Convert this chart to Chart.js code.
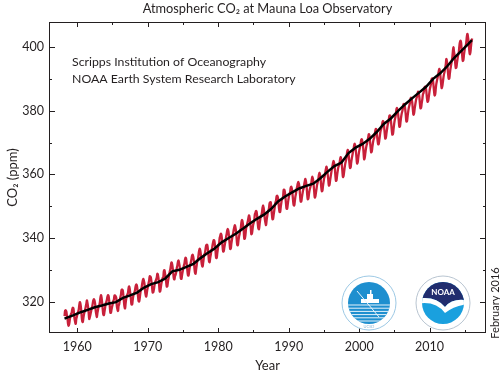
<!DOCTYPE html>
<html>
<head>
<meta charset="utf-8">
<script src="https://cdn.jsdelivr.net/npm/chart.js@4.4.1/dist/chart.umd.min.js"></script>
<style>
  body { margin: 0; background: #fff; }
  canvas { display: block; }
</style>
</head>
<body>
<canvas id="co2Chart" width="500" height="375"></canvas>
<script>
// Monthly mean CO2 (ppm) at Mauna Loa, starting March 1958
const firstYear = 1958;
const firstMonth = 3;
const monthlyCO2 = [
    315.71, 317.45, 317.50, 317.10, 315.86, 314.93, 313.20, 312.66, 313.33, 314.67, // 1958
    315.62, 316.38, 316.71, 317.72, 318.29, 318.15, 316.54, 314.80, 313.84, 313.26, 314.80, 315.58, // 1959
    316.43, 316.97, 317.58, 319.02, 320.03, 319.59, 318.18, 315.91, 314.16, 313.83, 315.00, 316.19,
    316.93, 317.70, 318.54, 319.48, 320.58, 319.77, 318.57, 316.79, 314.80, 315.38, 316.10, 317.01,
    317.94, 318.56, 319.68, 320.63, 321.01, 320.55, 319.58, 317.40, 316.26, 315.42, 316.69, 317.69,
    318.74, 319.08, 319.86, 321.39, 322.25, 321.47, 319.74, 317.77, 316.21, 315.99, 317.12, 318.31,
    319.57, 320.07, 320.73, 321.77, 322.25, 321.89, 320.44, 318.70, 316.70, 316.79, 317.79, 318.71,
    319.44, 320.44, 320.89, 322.13, 322.16, 321.87, 321.39, 318.81, 317.81, 317.30, 318.87, 319.42,
    320.62, 321.59, 322.39, 323.87, 324.01, 323.75, 322.39, 320.37, 318.64, 318.10, 319.79, 321.08,
    322.07, 322.50, 323.04, 324.42, 325.00, 324.09, 322.55, 320.92, 319.31, 319.31, 320.72, 321.96,
    322.57, 323.15, 323.89, 325.02, 325.57, 325.36, 324.14, 322.03, 320.41, 320.25, 321.31, 322.84,
    324.00, 324.42, 325.64, 326.66, 327.34, 326.76, 325.88, 323.67, 322.38, 321.78, 322.85, 324.11, // 1969
    325.03, 325.99, 326.87, 328.13, 328.07, 327.66, 326.35, 324.69, 323.10, 323.16, 323.98, 325.13, // 1970
    326.17, 326.68, 327.18, 327.78, 328.92, 328.57, 327.34, 325.46, 323.36, 323.57, 324.80, 326.01,
    326.77, 327.63, 327.75, 329.72, 330.07, 329.09, 328.05, 326.32, 324.93, 325.06, 326.50, 327.55,
    328.54, 329.56, 330.30, 331.50, 332.48, 332.07, 330.87, 329.31, 327.51, 327.18, 328.16, 328.64,
    329.35, 330.71, 331.48, 332.65, 333.09, 332.25, 331.18, 329.40, 327.43, 327.37, 328.46, 329.57,
    330.40, 331.40, 332.04, 333.31, 333.96, 333.59, 331.91, 330.06, 328.56, 328.34, 329.49, 330.76,
    331.75, 332.56, 333.50, 334.58, 334.87, 334.34, 333.05, 330.94, 329.30, 328.94, 330.31, 331.68,
    332.93, 333.42, 334.70, 336.07, 336.74, 336.27, 334.93, 332.75, 331.58, 331.16, 332.40, 333.85,
    334.97, 335.39, 336.64, 337.76, 338.01, 337.89, 336.54, 334.68, 332.76, 332.54, 333.92, 334.95,
    336.23, 336.76, 337.96, 338.89, 339.47, 339.29, 337.73, 336.09, 333.91, 333.86, 335.29, 336.73, // 1979
    338.01, 338.36, 340.08, 340.77, 341.46, 341.17, 339.56, 337.60, 335.88, 336.01, 337.10, 338.21, // 1980
    339.24, 340.48, 341.38, 342.51, 342.91, 342.25, 340.49, 338.43, 336.69, 336.85, 338.36, 339.61,
    340.75, 341.61, 342.70, 343.56, 344.13, 343.35, 342.06, 339.82, 337.97, 337.86, 339.26, 340.49,
    341.38, 342.52, 343.10, 344.94, 345.75, 345.32, 343.99, 342.39, 339.86, 339.99, 341.16, 342.99,
    343.82, 344.63, 345.38, 346.38, 347.19, 346.54, 345.14, 343.37, 341.29, 341.51, 342.81, 344.17,
    344.91, 345.76, 347.56, 348.01, 348.60, 348.23, 346.68, 344.53, 343.09, 342.86, 344.35, 345.72,
    346.81, 347.23, 348.02, 349.52, 350.30, 349.54, 347.96, 345.92, 344.86, 344.16, 345.65, 346.91,
    348.07, 348.70, 349.38, 350.94, 351.32, 351.32, 349.39, 347.55, 345.99, 346.09, 347.46, 348.72,
    350.06, 351.25, 351.79, 353.17, 353.33, 352.96, 351.73, 349.57, 348.25, 348.26, 349.74, 351.08,
    352.21, 352.48, 353.04, 355.17, 355.23, 354.61, 352.87, 350.90, 349.24, 349.28, 350.66, 351.98, // 1989
    353.08, 353.81, 354.53, 355.84, 356.18, 355.57, 354.03, 351.96, 350.44, 350.29, 351.61, 353.06, // 1990
    354.04, 355.38, 356.17, 357.13, 357.68, 357.14, 355.85, 353.26, 351.50, 351.55, 352.77, 353.91,
    355.00, 355.63, 356.89, 357.88, 358.59, 357.81, 356.33, 353.95, 352.26, 352.40, 353.72, 354.96,
    355.71, 356.36, 357.24, 358.58, 359.27, 358.44, 356.79, 354.69, 352.76, 353.11, 354.37, 355.57,
    356.87, 357.54, 358.52, 359.83, 360.55, 359.85, 358.48, 356.12, 354.77, 354.90, 356.47, 357.71,
    358.89, 359.52, 360.68, 361.80, 362.46, 361.65, 359.96, 358.34, 356.51, 356.69, 358.04, 359.29,
    360.43, 361.61, 362.47, 363.59, 364.22, 363.58, 362.20, 359.89, 358.02, 358.22, 359.73, 361.04,
    362.18, 362.73, 363.29, 364.59, 365.43, 364.72, 363.14, 361.07, 359.18, 359.52, 360.91, 362.28,
    363.47, 364.29, 365.30, 366.91, 367.71, 367.07, 365.56, 363.56, 362.03, 362.17, 363.74, 364.97,
    365.99, 367.03, 367.85, 369.06, 369.60, 368.85, 367.34, 365.27, 363.42, 363.75, 365.17, 366.61, // 1999
    367.72, 368.47, 369.55, 370.77, 370.99, 370.32, 369.16, 366.99, 364.74, 365.20, 366.57, 367.94, // 2000
    368.99, 369.64, 370.79, 371.67, 372.63, 372.21, 370.49, 368.55, 366.92, 367.17, 368.54, 369.82,
    370.87, 371.32, 372.39, 373.63, 374.26, 373.98, 372.18, 370.52, 369.41, 369.65, 370.96, 372.42,
    373.61, 374.19, 374.96, 376.11, 376.71, 376.43, 375.03, 373.01, 371.22, 371.52, 372.86, 374.10,
    375.42, 376.12, 377.05, 378.37, 378.49, 377.68, 376.12, 374.04, 372.47, 372.59, 374.03, 375.58,
    376.90, 377.74, 378.73, 380.32, 380.79, 380.10, 378.64, 376.71, 374.92, 375.03, 376.51, 377.96,
    379.10, 379.79, 380.71, 381.96, 382.09, 381.58, 380.34, 378.43, 376.56, 376.68, 378.11, 379.59,
    380.80, 381.55, 382.44, 383.67, 384.00, 383.55, 382.34, 380.30, 378.68, 379.04, 380.47, 381.72,
    382.92, 383.78, 384.31, 385.35, 385.91, 385.52, 384.26, 382.14, 380.69, 380.88, 382.25, 383.40,
    384.95, 385.45, 386.34, 387.28, 387.50, 387.12, 385.85, 383.91, 382.73, 382.98, 384.10, 385.52, // 2009
    386.82, 387.59, 388.56, 389.88, 390.07, 389.68, 388.07, 386.15, 384.71, 385.04, 386.92, 388.42, // 2010
    389.39, 390.17, 391.16, 392.24, 393.01, 392.37, 390.53, 388.66, 387.04, 387.48, 388.79, 390.26,
    391.39, 392.09, 393.28, 394.42, 396.10, 395.26, 393.52, 391.48, 389.95, 390.05, 391.63, 393.06,
    394.14, 395.25, 396.38, 398.27, 399.79, 398.48, 397.24, 395.17, 393.34, 393.48, 394.83, 396.09,
    397.27, 397.94, 399.88, 401.33, 401.83, 401.37, 399.14, 397.20, 395.52, 395.82, 397.48, 398.79,
    399.96, 400.26, 401.53, 403.28, 403.96, 402.80, 401.31, 398.93, 397.63, 398.29, 400.16, 401.85, // 2015
    402.52 // Jan 2016
];

// Seasonally corrected trend (black line), read at these dates
const trendDates = [1958.2, 1959.5, 1960.5, 1961.5, 1962.5, 1963.5, 1964.5, 1965.5, 1966.5, 1967.5,
    1968.5, 1969.5, 1970.5, 1971.5, 1972.5, 1973.5, 1974.5, 1975.5, 1976.5, 1977.5,
    1978.5, 1979.5, 1980.5, 1981.5, 1982.5, 1983.5, 1984.5, 1985.5, 1986.5, 1987.5,
    1988.5, 1989.5, 1990.5, 1991.5, 1992.5, 1993.5, 1994.5, 1995.5, 1996.5, 1997.5,
    1998.5, 1999.5, 2000.5, 2001.5, 2002.5, 2003.5, 2004.5, 2005.5, 2006.5, 2007.5,
    2008.5, 2009.5, 2010.5, 2011.5, 2012.5, 2013.5, 2014.5, 2015.5, 2016.0];
const trendCO2 = [314.9, 315.97, 316.91, 317.64, 318.45, 318.99, 319.62, 320.04, 321.38, 322.16,
    323.04, 324.62, 325.68, 326.32, 327.45, 329.68, 330.18, 331.11, 332.04, 333.83,
    335.40, 336.84, 338.75, 340.11, 341.45, 343.05, 344.65, 346.12, 347.42, 349.19,
    351.57, 353.12, 354.39, 355.61, 356.45, 357.10, 358.83, 360.82, 362.61, 363.73,
    366.70, 368.38, 369.55, 371.14, 373.28, 375.80, 377.52, 379.80, 381.90, 383.79,
    385.60, 387.43, 389.90, 391.65, 393.85, 396.52, 398.65, 400.83, 402.0];

const xLabels = [1960, 1970, 1980, 1990, 2000, 2010];
const yLabels = [320, 340, 360, 380, 400];

// decimal date for each monthly value
const monthlyPoints = monthlyCO2.map((v, i) => {
    return { x: firstYear + (firstMonth - 1 + i + 0.5) / 12, y: v };
});
const trendPoints = trendDates.map((d, i) => ({ x: d, y: trendCO2[i] }));

const textColor = '#231f20';
const fontFamily = 'Lato, "Open Sans", sans-serif';

// Frame with inward tick marks, title, notes and logos
const decorPlugin = {
    id: 'decor',
    afterDraw(chart) {
        const ctx = chart.ctx;
        const a = chart.chartArea;
        const xs = chart.scales.x, ys = chart.scales.y;
        ctx.save();
        ctx.strokeStyle = '#231f20';
        ctx.lineWidth = 1;
        ctx.strokeRect(a.left + 0.5, a.top + 0.5, a.right - a.left - 1, a.bottom - a.top - 1);

        ctx.beginPath();
        xs.ticks.forEach(t => {
            if (t.value % 5 !== 0) return;
            const px = Math.round(xs.getPixelForValue(t.value)) + 0.5;
            const len = t.value % 10 === 0 ? 5 : 3;
            ctx.moveTo(px, a.bottom); ctx.lineTo(px, a.bottom - len);
            ctx.moveTo(px, a.top); ctx.lineTo(px, a.top + len);
        });
        ys.ticks.forEach(t => {
            if (t.value % 10 !== 0) return;
            const py = Math.round(ys.getPixelForValue(t.value)) + 0.5;
            const len = t.value % 20 === 0 ? 6 : 3;
            ctx.moveTo(a.left, py); ctx.lineTo(a.left + len, py);
            ctx.moveTo(a.right, py); ctx.lineTo(a.right - len, py);
        });
        ctx.stroke();

        ctx.fillStyle = textColor;
        ctx.textBaseline = 'middle';

        // title centred over the plot area
        ctx.textAlign = 'center';
        ctx.font = '12.8px ' + fontFamily;
        ctx.fillText('Atmospheric CO₂ at Mauna Loa Observatory', (a.left + a.right) / 2, 9);

        // source notes
        ctx.font = '12.3px ' + fontFamily;
        ctx.textAlign = 'left';
        ctx.fillText('Scripps Institution of Oceanography', 72, 62);
        ctx.fillText('NOAA Earth System Research Laboratory', 72, 79);

        // date stamp
        ctx.save();
        ctx.translate(495, 303);
        ctx.rotate(-Math.PI / 2);
        ctx.textAlign = 'center';
        ctx.font = '11px ' + fontFamily;
        ctx.fillText('February 2016', 0, 0);
        ctx.restore();

        drawScrippsLogo(ctx, 369, 303, 27);
        drawNoaaLogo(ctx, 443, 303, 27);
        ctx.restore();
    }
};

function drawScrippsLogo(ctx, cx, cy, r) {
    ctx.save();
    ctx.beginPath();
    ctx.arc(cx, cy, r, 0, Math.PI * 2);
    ctx.fillStyle = '#fff';
    ctx.fill();
    ctx.strokeStyle = '#9cc8e4';
    ctx.lineWidth = 1;
    ctx.stroke();
    ctx.beginPath();
    ctx.arc(cx, cy, r - 6, 0, Math.PI * 2);
    ctx.fillStyle = '#1e8fcf';
    ctx.fill();
    ctx.clip();
    // ship
    ctx.fillStyle = '#fff';
    ctx.fillRect(cx - 8, cy - 4, 18, 4);
    ctx.fillRect(cx - 2, cy - 9, 6, 5);
    ctx.fillRect(cx + 1, cy - 13, 1.5, 4);
    // waves
    ctx.strokeStyle = '#e6f3fb';
    ctx.lineWidth = 1;
    for (let k = 0; k < 6; k++) {
        ctx.beginPath();
        ctx.moveTo(cx - r, cy + 2 + k * 3.2);
        ctx.lineTo(cx + r, cy + 2 + k * 3.2);
        ctx.stroke();
    }
    // trident
    ctx.beginPath();
    ctx.moveTo(cx - 12, cy - 12);
    ctx.lineTo(cx + 10, cy + 14);
    ctx.stroke();
    ctx.restore();
    ctx.save();
    ctx.fillStyle = '#8fb8d8';
    ctx.font = '4px ' + fontFamily;
    ctx.textAlign = 'center';
    ctx.fillText('UCSD', cx, cy + r - 3);
    ctx.restore();
}

function drawNoaaLogo(ctx, cx, cy, r) {
    ctx.save();
    ctx.beginPath();
    ctx.arc(cx, cy, r, 0, Math.PI * 2);
    ctx.fillStyle = '#fff';
    ctx.fill();
    ctx.strokeStyle = '#b8c4d0';
    ctx.lineWidth = 1;
    ctx.stroke();
    ctx.beginPath();
    ctx.arc(cx, cy, r - 6, 0, Math.PI * 2);
    ctx.fillStyle = '#1aa0de';
    ctx.fill();
    ctx.clip();
    // upper navy part
    ctx.beginPath();
    ctx.moveTo(cx - r, cy - r);
    ctx.lineTo(cx + r, cy - r);
    ctx.lineTo(cx + r, cy - 2);
    ctx.quadraticCurveTo(cx + 10, cy - 6, cx + 2, cy + 4);
    ctx.quadraticCurveTo(cx - 8, cy - 8, cx - r, cy - 4);
    ctx.closePath();
    ctx.fillStyle = '#212d6e';
    ctx.fill();
    // white gull
    ctx.beginPath();
    ctx.moveTo(cx - r, cy - 4);
    ctx.quadraticCurveTo(cx - 8, cy - 8, cx + 2, cy + 4);
    ctx.quadraticCurveTo(cx + 10, cy - 6, cx + r, cy - 2);
    ctx.lineTo(cx + r, cy + 1);
    ctx.quadraticCurveTo(cx + 12, cy + 2, cx + 2, cy + 10);
    ctx.quadraticCurveTo(cx - 8, cy - 3, cx - r, cy + 1);
    ctx.closePath();
    ctx.fillStyle = '#fff';
    ctx.fill();
    ctx.fillStyle = '#fff';
    ctx.font = 'bold 8px ' + fontFamily;
    ctx.textAlign = 'center';
    ctx.textBaseline = 'middle';
    ctx.fillText('NOAA', cx, cy - 11);
    ctx.restore();
}

const ctx = document.getElementById('co2Chart').getContext('2d');
new Chart(ctx, {
    type: 'line',
    data: {
        datasets: [{
            label: 'Trend',
            data: trendPoints,
            borderColor: '#000',
            borderWidth: 2.5,
            pointRadius: 0,
            tension: 0,
            order: 0
        }, {
            label: 'Monthly mean',
            data: monthlyPoints,
            borderColor: '#c8203a',
            borderWidth: 2.3,
            pointRadius: 0,
            tension: 0.4,
            order: 1
        }]
    },
    options: {
        responsive: false,
        animation: false,
        layout: { padding: { top: 22, right: 14, left: 0, bottom: 0 } },
        plugins: {
            legend: { display: false },
            tooltip: { enabled: false },
            title: { display: false }
        },
        scales: {
            x: {
                type: 'linear',
                min: 1956,
                max: 2018,
                grid: { display: false, drawTicks: false },
                border: { display: false },
                ticks: {
                    stepSize: 5,
                    includeBounds: false,
                    autoSkip: false,
                    maxRotation: 0,
                    padding: 6,
                    color: textColor,
                    font: { family: fontFamily, size: 12.5 },
                    callback: v => xLabels.includes(v) ? String(v) : ''
                },
                title: {
                    display: true,
                    text: 'Year',
                    color: textColor,
                    font: { family: fontFamily, size: 13 },
                    padding: { top: 0, bottom: 1 }
                },
                afterFit: scale => { scale.height = 42; }
            },
            y: {
                min: 310.4,
                max: 407.7,
                grid: { display: false, drawTicks: false },
                border: { display: false },
                ticks: {
                    stepSize: 10,
                    includeBounds: false,
                    autoSkip: false,
                    padding: 5,
                    color: textColor,
                    font: { family: fontFamily, size: 12.5 },
                    callback: v => yLabels.includes(Math.round(v)) && Math.abs(v - Math.round(v)) < 1e-6 ? String(Math.round(v)) : ''
                },
                title: {
                    display: true,
                    text: 'CO₂ (ppm)',
                    color: textColor,
                    font: { family: fontFamily, size: 13 },
                    padding: { top: 5, bottom: 0 }
                },
                afterFit: scale => { scale.width = 49; }
            }
        }
    },
    plugins: [decorPlugin]
});
</script>
</body>
</html>
